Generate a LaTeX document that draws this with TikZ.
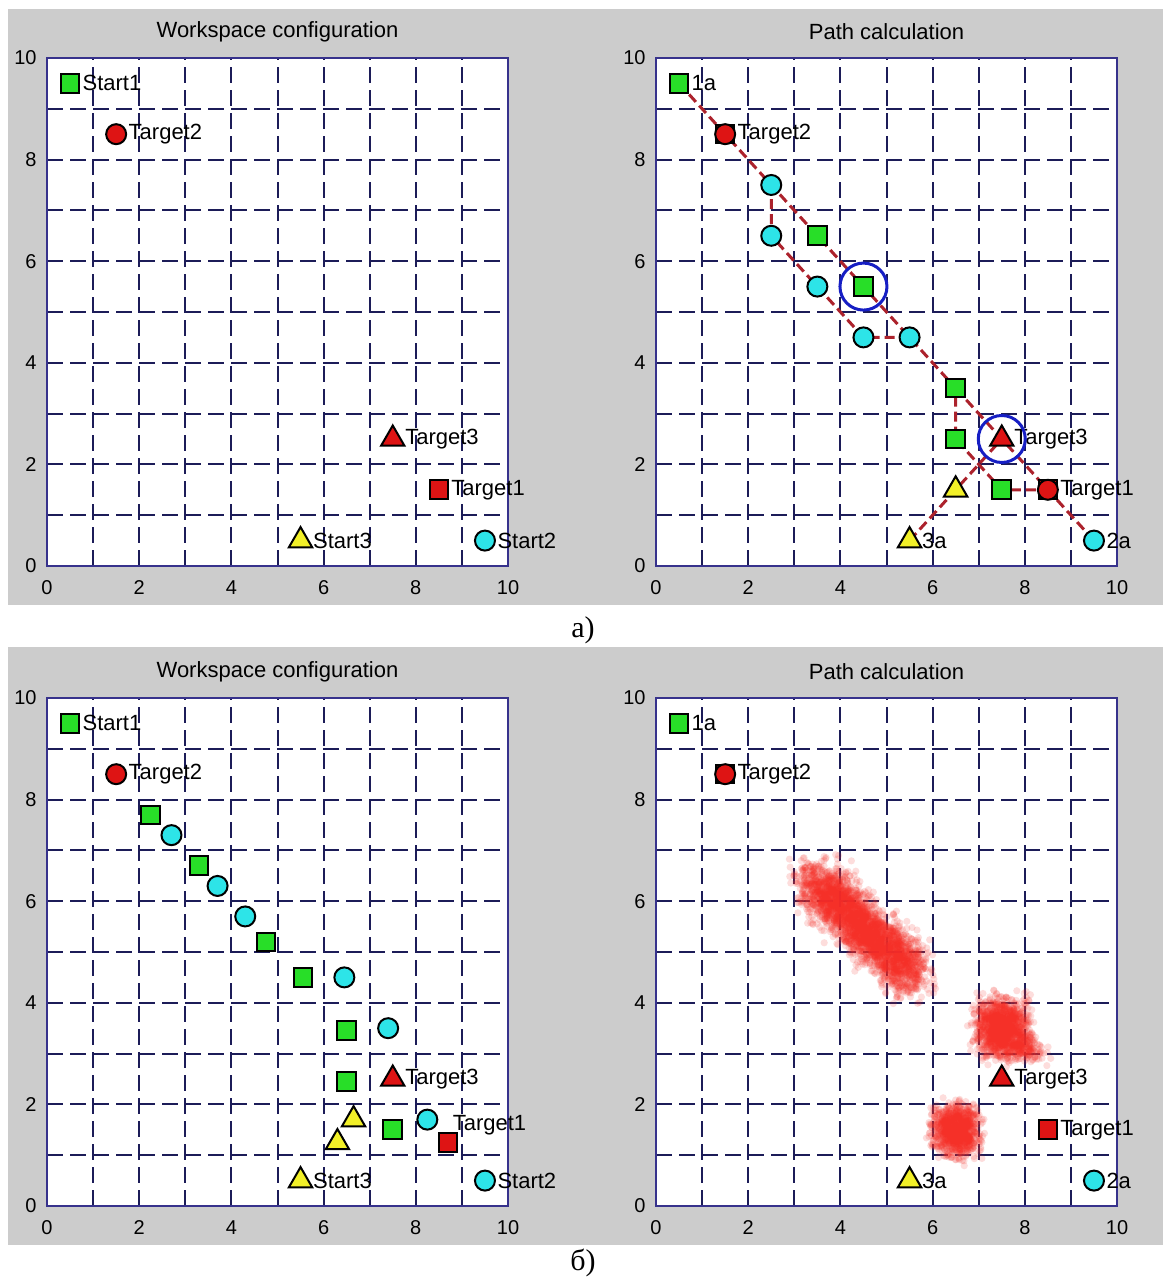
\documentclass[tikz,border=0pt]{standalone}
\usepackage{fontspec}
\setmainfont{Liberation Sans}
\newfontfamily\capfont{Liberation Serif}
\usetikzlibrary{shapes.geometric}
\pgfdeclarelayer{back}
\pgfdeclarelayer{mid}
\pgfsetlayers{back,mid,main}
\definecolor{mgreen}{RGB}{40,222,40}
\definecolor{mred}{RGB}{222,20,20}
\definecolor{mcyan}{RGB}{45,228,232}
\definecolor{myellow}{RGB}{242,240,40}
\definecolor{mgrey}{RGB}{204,204,204}
\definecolor{gridc}{RGB}{28,28,88}
\definecolor{boxc}{RGB}{55,50,140}
\definecolor{pathc}{RGB}{172,34,44}
\definecolor{ringc}{RGB}{22,30,196}
\definecolor{blobc}{RGB}{245,48,40}
\tikzset{
  sqm/.style={rectangle,draw=black,line width=1pt,minimum size=9.3pt,inner sep=0pt},
  gsq/.style={sqm,fill=mgreen},
  rsq/.style={sqm,fill=mred},
  circm/.style={circle,draw=black,line width=1pt,minimum size=10pt,inner sep=0pt},
  ccirc/.style={circm,fill=mcyan},
  rcirc/.style={circm,fill=mred},
  trim/.style={regular polygon,regular polygon sides=3,draw=black,line width=1pt,minimum size=13.5pt,inner sep=0pt},
  ytri/.style={trim,fill=myellow},
  rtri/.style={trim,fill=mred},
  lbl/.style={anchor=west,inner sep=1pt,font=\fontsize{11}{12}\selectfont},
  tickl/.style={inner sep=0pt,font=\fontsize{10}{12}\selectfont},
  ttl/.style={inner sep=0pt,font=\fontsize{11}{13}\selectfont},
  capt/.style={inner sep=0pt,font=\capfont\fontsize{15}{17}\selectfont},
  gridl/.style={draw=gridc,line width=1pt,dash pattern=on 8pt off 3.5pt},
  boxl/.style={draw=boxc,line width=0.8pt},
  pth/.style={draw=pathc,line width=1.5pt,dash pattern=on 5pt off 2.5pt},
  ring/.style={circle,draw=ringc,line width=1.5pt,minimum size=23.5pt,inner sep=0pt},
}
\newcommand\axframe[1]{%
  \begin{pgfonlayer}{back}
    \fill[white] (0,0) rectangle (10,10);
    \foreach \i in {1,...,9}{\draw[gridl] (\i,0)--(\i,10); \draw[gridl] (0,\i)--(10,\i);}
    \draw[boxl] (0,0) rectangle (10,10);
  \end{pgfonlayer}
  \foreach \i in {0,2,...,10}{%
    \node[tickl] at ([yshift=-11pt]\i,0) {\i};
    \node[tickl,anchor=east] at ([xshift=-5pt]0,\i) {\i};}
  \node[ttl] at ([yshift=13pt]5,10) {#1};
}
\newcommand\blobline[6]{%
  \foreach \k in {1,...,#6}{%
    \pgfmathsetmacro\bT{rnd}%
    \pgfmathsetmacro\bX{#1+(#3-#1)*\bT+#5*(rand+rand+rand)}%
    \pgfmathsetmacro\bY{#2+(#4-#2)*\bT+#5*(rand+rand+rand)}%
    \fill[blobc,opacity=0.16] (\bX,\bY) circle[radius=1.8pt];}%
}
\begin{document}
\begin{tikzpicture}[x=0.5pt,y=0.5pt]
\useasboundingbox (0,0) rectangle (1165,1277);
\begin{pgfonlayer}{back}
  \fill[mgrey] (8,672) rectangle (1163,1268);
  \fill[mgrey] (8,32) rectangle (1163,630);
\end{pgfonlayer}
\node[capt] (capa) at (583,647) {а)};
\node[capt] (capb) at (583,14) {б)};

% ---------- top left
\begin{scope}[shift={(23.5pt,355.5pt)},x=23.05pt,y=25.4pt]
  \axframe{Workspace configuration}
  \node[gsq] (aS1) at (0.5,9.5) {};   \node[lbl] (aS1l) at (0.72,9.5) {Start1};
  \node[rcirc] (aT2) at (1.5,8.5) {}; \node[lbl] (aT2l) at (1.72,8.5) {Target2};
  \node[rtri] (aT3) at (7.5,2.5) {};  \node[lbl] (aT3l) at (7.72,2.5) {Target3};
  \node[rsq] (aT1) at (8.5,1.5) {};   \node[lbl] (aT1l) at (8.72,1.5) {Target1};
  \node[ytri] (aS3) at (5.5,0.5) {};  \node[lbl] (aS3l) at (5.72,0.5) {Start3};
  \node[ccirc] (aS2) at (9.5,0.5) {}; \node[lbl] (aS2l) at (9.72,0.5) {Start2};
\end{scope}

% ---------- top right
\begin{scope}[shift={(328pt,355.5pt)},x=23.05pt,y=25.4pt]
  \axframe{Path calculation}
  \node[gsq] (bG0) at (0.5,9.5) {};   \node[lbl] (bG0l) at (0.72,9.5) {1a};
  \node[rsq] (bT2s) at (1.5,8.5) {};
  \node[rcirc] (bT2) at (1.5,8.5) {}; \node[lbl] (bT2l) at (1.72,8.5) {Target2};
  \node[ccirc] (bC1) at (2.5,7.5) {};
  \node[ccirc] (bC2) at (2.5,6.5) {};
  \node[gsq] (bG2) at (3.5,6.5) {};
  \node[ccirc] (bC3) at (3.5,5.5) {};
  \node[gsq] (bG3) at (4.5,5.5) {};
  \node[ccirc] (bC4) at (4.5,4.5) {};
  \node[ccirc] (bC5) at (5.5,4.5) {};
  \node[gsq] (bG4) at (6.5,3.5) {};
  \node[gsq] (bG5) at (6.5,2.5) {};
  \node[rtri] (bT3) at (7.5,2.5) {};  \node[lbl] (bT3l) at (7.72,2.5) {Target3};
  \node[ytri] (bY1) at (6.5,1.5) {};
  \node[gsq] (bG6) at (7.5,1.5) {};
  \node[rsq] (bT1s) at (8.5,1.5) {};
  \node[rcirc] (bT1) at (8.5,1.5) {}; \node[lbl] (bT1l) at (8.72,1.5) {Target1};
  \node[ytri] (bS3) at (5.5,0.5) {};  \node[lbl] (bS3l) at (5.72,0.5) {3a};
  \node[ccirc] (bS2) at (9.5,0.5) {}; \node[lbl] (bS2l) at (9.72,0.5) {2a};
  \node[ring] (bR1) at (bG3) {};
  \node[ring] (bR2) at (bT3) {};
  \begin{pgfonlayer}{mid}
    \draw[pth] (bG0.center)--(bT2.center)--(bC1.center)--(bG2.center)--(bG3.center)--(bC5.center)--(bG4.center)--(bG5.center)--(bG6.center)--(bT1.center);
    \draw[pth] (bS2.center)--(bT1.center)--(bT3.center)--(bG4.center);
    \draw[pth] (bC5.center)--(bC4.center)--(bC3.center)--(bC2.center)--(bC1.center);
    \draw[pth] (bS3.center)--(bY1.center)--(bT3.center);
  \end{pgfonlayer}
\end{scope}

% ---------- bottom left
\begin{scope}[shift={(23.5pt,35.5pt)},x=23.05pt,y=25.4pt]
  \axframe{Workspace configuration}
  \node[gsq] (cS1) at (0.5,9.5) {};   \node[lbl] (cS1l) at (0.72,9.5) {Start1};
  \node[rcirc] (cT2) at (1.5,8.5) {}; \node[lbl] (cT2l) at (1.72,8.5) {Target2};
  \node[gsq] (cG1) at (2.25,7.7) {};
  \node[ccirc] (cC1) at (2.7,7.3) {};
  \node[gsq] (cG2) at (3.3,6.7) {};
  \node[ccirc] (cC2) at (3.7,6.3) {};
  \node[ccirc] (cC3) at (4.3,5.7) {};
  \node[gsq] (cG3) at (4.75,5.2) {};
  \node[gsq] (cG4) at (5.55,4.5) {};
  \node[ccirc] (cC4) at (6.45,4.5) {};
  \node[gsq] (cG5) at (6.5,3.45) {};
  \node[ccirc] (cC5) at (7.4,3.5) {};
  \node[gsq] (cG6) at (6.5,2.45) {};
  \node[rtri] (cT3) at (7.5,2.5) {};  \node[lbl] (cT3l) at (7.72,2.5) {Target3};
  \node[ytri] (cY1) at (6.65,1.7) {};
  \node[ytri] (cY2) at (6.3,1.25) {};
  \node[gsq] (cG7) at (7.5,1.5) {};
  \node[ccirc] (cC6) at (8.25,1.7) {};
  \node[rsq] (cT1) at (8.7,1.25) {};  \node[lbl] (cT1l) at (8.75,1.6) {Target1};
  \node[ytri] (cS3) at (5.5,0.5) {};  \node[lbl] (cS3l) at (5.72,0.5) {Start3};
  \node[ccirc] (cS2) at (9.5,0.5) {}; \node[lbl] (cS2l) at (9.72,0.5) {Start2};
\end{scope}

% ---------- bottom right
\begin{scope}[shift={(328pt,35.5pt)},x=23.05pt,y=25.4pt]
  \axframe{Path calculation}
  \pgfmathsetseed{7}
  \begin{pgfonlayer}{mid}
    \blobline{3.4}{6.4}{5.6}{4.55}{0.25}{3000}
    \blobline{7.4}{3.6}{7.6}{3.4}{0.27}{1300}
    \blobline{7.8}{3.2}{8.3}{3.0}{0.12}{150}
    \blobline{6.45}{1.55}{6.55}{1.45}{0.24}{1000}
  \end{pgfonlayer}
  \node[gsq] (dG0) at (0.5,9.5) {};   \node[lbl] (dG0l) at (0.72,9.5) {1a};
  \node[rsq] (dT2s) at (1.5,8.5) {};
  \node[rcirc] (dT2) at (1.5,8.5) {}; \node[lbl] (dT2l) at (1.72,8.5) {Target2};
  \node[rtri] (dT3) at (7.5,2.5) {};  \node[lbl] (dT3l) at (7.72,2.5) {Target3};
  \node[rsq] (dT1) at (8.5,1.5) {};   \node[lbl] (dT1l) at (8.72,1.5) {Target1};
  \node[ytri] (dS3) at (5.5,0.5) {};  \node[lbl] (dS3l) at (5.72,0.5) {3a};
  \node[ccirc] (dS2) at (9.5,0.5) {}; \node[lbl] (dS2l) at (9.72,0.5) {2a};
\end{scope}
\end{tikzpicture}
\end{document}
